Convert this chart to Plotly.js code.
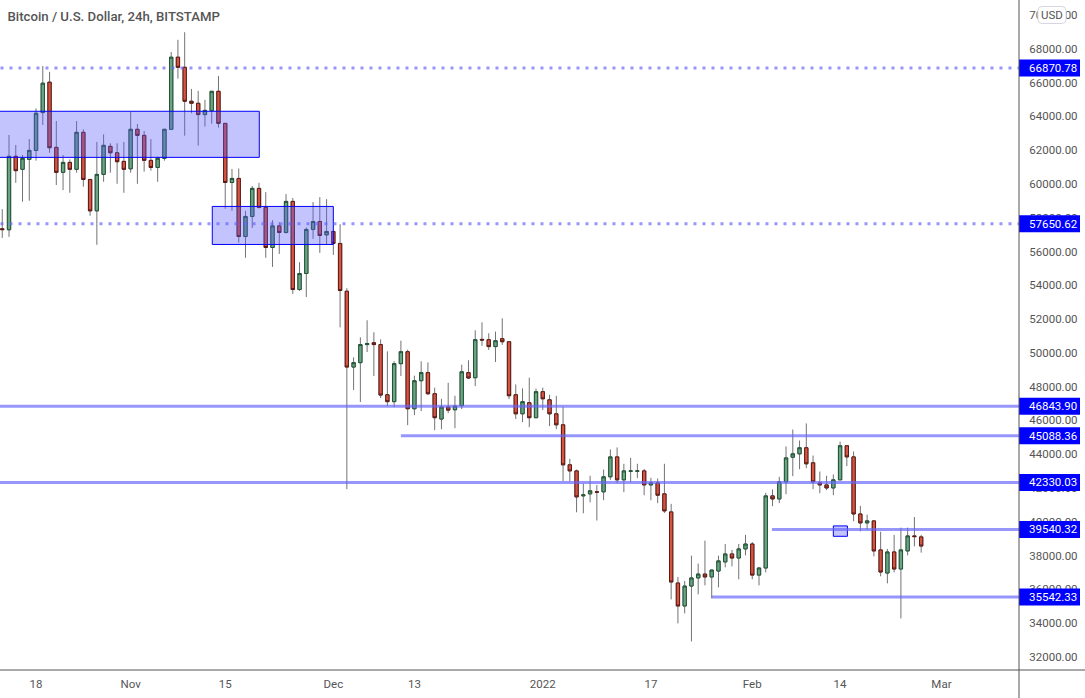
<!DOCTYPE html>
<html><head><meta charset="utf-8">
<script src="https://cdn.plot.ly/plotly-3.0.1.min.js"></script>
<style>html,body{margin:0;padding:0;background:#fff;overflow:hidden}#c{width:1085px;height:698px}</style>
</head><body><div id="c"></div>
<script>
const firstDate = '2021-10-13';
const opens = [57350,57290,61640,60870,61460,61990,64230,66030,62170,60690,
61280,60870,63060,60270,58410,60570,62230,61850,61340,60900,
63240,62880,61400,60980,61520,63240,67510,66910,64900,64780,
64110,64340,65490,63590,60090,60330,56890,58080,59740,58610,
56240,57520,57130,58970,53750,54700,57310,57780,56990,57190,
56480,53650,49160,49420,50490,50600,50490,47520,47110,49360,
50070,46690,48350,48830,47580,46080,46790,46630,46870,48830,
48530,50800,50780,50370,50840,50660,47520,46390,47050,46160,
47700,47220,46390,45740,43370,43010,41530,41650,41770,41770,
42660,43840,42480,42990,42990,43010,42180,42300,41650,40580,
36370,35010,36190,36670,36900,36730,37080,37620,38090,37850,
38390,38680,36840,37260,41530,41350,42360,43820,44020,44380,
43490,42300,42180,42000,42480,44500,43840,40460,39930,40050,
38330,36960,38210,37200,38270,39160,39100];
const highs = [58510,62900,62310,61720,62660,64480,66990,66640,63730,61720,
61460,63730,63240,60270,62490,62940,62410,62410,62490,64290,
63550,63140,62660,61620,63240,67820,68540,68990,65630,65510,
64980,65510,66400,63590,60890,60920,58410,59880,60070,59520,
57860,57740,59400,59170,55370,57430,58930,59220,59100,57190,
57620,53830,49730,50920,51930,51220,50800,50090,49500,50720,
50190,48650,49500,49440,47940,47280,48230,47460,49300,49560,
51340,51810,51160,51260,52050,50660,48130,47900,48530,47880,
47940,47520,47460,46810,43720,43090,42260,42720,42180,43090,
44280,44400,43430,43780,43430,43130,42600,42560,43430,41060,
36730,36490,37990,37520,38880,37140,37990,38680,38330,38680,
39220,38800,37320,41710,41910,42660,44460,45460,44810,45820,
43920,42970,42720,42800,44750,44500,44160,40940,40420,40050,
39410,38390,39220,39650,39650,40280,39220];
const lows = [56810,56870,60070,58950,59010,61380,63490,61850,59940,59640,
59480,60670,59840,58120,56400,60130,60670,60010,59480,60670,
60010,60730,60790,60130,61380,63240,66240,62860,64190,62270,
63400,63570,63340,58530,58410,56520,55630,57400,58550,55630,
55090,55860,57070,53490,53670,53310,56750,55920,56400,55800,
51510,41930,47800,47090,50050,48630,47320,46850,46790,48630,
45720,46310,46550,47500,45420,45480,46430,45540,46670,48450,
48030,50410,50170,49460,50470,47260,46080,45900,45600,46160,
46610,45660,45480,42400,42400,40560,40500,41150,40070,41270,
42480,42280,41750,42340,42580,41570,41270,41100,40520,35400,
33980,34570,32910,35700,36230,35460,36110,37300,37360,36590,
38010,36590,36230,37000,40920,41100,41630,42700,43110,43170,
41930,41690,41870,41570,42480,43290,40030,39430,39530,37950,
36770,36350,37000,34270,38010,38540,38170];
const closes = [57300,61640,60790,61520,61990,64190,65970,62150,60690,61280,
60870,63060,60270,58410,60570,62290,61850,61320,60870,63240,
62880,61400,60980,61520,63240,67510,66910,64900,64780,64110,
64360,65490,63590,60090,60330,56890,58080,59740,58610,56240,
57520,57130,58970,53750,54700,57310,57780,56950,57190,56480,
53690,49160,49420,50490,50550,50490,47500,47110,49360,50070,
46690,48350,48830,47580,46160,46790,46610,46850,48880,48510,
50780,50760,50370,50720,50660,47460,46390,47110,46160,47700,
47280,46390,45740,43370,43010,41470,41590,41830,41750,42660,
43840,42480,43010,43010,43010,42180,42300,41570,40640,36430,
35010,36190,36670,36900,36730,37140,37680,38090,37850,38390,
38680,36840,37260,41530,41350,42360,43780,44020,44380,43430,
42360,42180,42000,42480,44500,43840,40460,39930,40050,38270,
37020,38210,37200,38330,39160,39120,38560];

const levelPrices = [66870.78,57650.62,46843.90,45088.36,42330.03,39540.32,35542.33];
const levelLabels = ['66870.78','57650.62','46843.90','45088.36','42330.03','39540.32','35542.33'];
const levelStarts = ['2021-09-30 18:00','2021-09-30 18:00','2021-10-01','2021-12-11','2021-10-01','2022-02-03 22:00','2022-01-26'];
const levelDash = ['3px,6px','3px,6px','solid','solid','solid','solid','solid'];

const zoneStarts = ['2021-10-08','2021-11-13 02:00','2022-02-13'];
const zoneEnds = ['2021-11-20 01:00','2021-12-01','2022-02-15 02:00'];
const zoneTops = [64307,58672,39752];
const zoneBottoms = [61578,56419,39136];

const tickDates = ['2021-10-18','2021-11-01','2021-11-15','2021-12-01','2021-12-13','2022-01-01','2022-01-17','2022-02-01','2022-02-14','2022-03-01'];
const tickNames = ['18','Nov','15','Dec','13','2022','17','Feb','14','Mar'];

const FONT = 'Roboto, sans-serif';
const INK = '#555555';
const dates = opens.map((_, i) => {
  const d = new Date(firstDate + 'T00:00:00Z');
  d.setUTCDate(d.getUTCDate() + i);
  return d.toISOString().slice(0, 10);
});

const wicks = {
  type: 'candlestick', x: dates, open: opens, high: highs, low: lows, close: closes,
  increasing: {line: {color: '#737375', width: 1}, fillcolor: '#737375'},
  decreasing: {line: {color: '#737375', width: 1}, fillcolor: '#737375'},
  whiskerwidth: 0, hoverinfo: 'skip', showlegend: false
};
const bodies = {
  type: 'candlestick', x: dates, open: opens, close: closes,
  high: opens.map((o, i) => Math.max(o, closes[i])),
  low: opens.map((o, i) => Math.min(o, closes[i])),
  increasing: {line: {color: '#225437', width: 1}, fillcolor: '#6ba583'},
  decreasing: {line: {color: '#5b1a13', width: 1}, fillcolor: '#d75442'},
  whiskerwidth: 0, showlegend: false
};

const PW = 1019, PH = 670;
const px = v => (v / PW).toFixed(5);
const py = v => (1 - v / PH).toFixed(5);
const shapes = [];
zoneStarts.forEach((s, i) => shapes.push({
  type: 'rect', xref: 'x', yref: 'y', x0: s, x1: zoneEnds[i], y0: zoneBottoms[i], y1: zoneTops[i],
  fillcolor: 'rgba(90,90,250,0.36)', line: {color: '#0000ff', width: 1}
}));
levelPrices.forEach((p, i) => shapes.push({
  type: 'line', xref: 'x', yref: 'y', x0: levelStarts[i], x1: '2022-03-12 11:30', y0: p, y1: p,
  line: {color: 'rgba(100,100,250,0.68)', width: 3, dash: levelDash[i]}
}));
levelPrices.forEach(p => shapes.push({
  type: 'rect', xref: 'paper', yref: 'y', ysizemode: 'pixel', yanchor: p,
  x0: 1, x1: 1 + 61 / PW, y0: -8.5, y1: 8.5,
  fillcolor: '#0000ff', line: {width: 0}
}));
shapes.push({type: 'line', xref: 'paper', yref: 'paper', x0: 0, x1: 1085 / PW, y0: 0, y1: 0, line: {color: '#555', width: 1}});
shapes.push({type: 'line', xref: 'paper', yref: 'paper', x0: 1, x1: 1, y0: -28 / PH, y1: 1, line: {color: '#555', width: 1}});
shapes.push({
  type: 'path', xref: 'paper', yref: 'paper', fillcolor: '#ffffff', line: {color: '#d6d6e0', width: 1},
  path: `M${px(1042)},${py(6.5)} L${px(1062)},${py(6.5)} Q${px(1066)},${py(6.5)} ${px(1066)},${py(10.5)}` +
        ` L${px(1066)},${py(19.5)} Q${px(1066)},${py(23.5)} ${px(1062)},${py(23.5)}` +
        ` L${px(1042)},${py(23.5)} Q${px(1038)},${py(23.5)} ${px(1038)},${py(19.5)}` +
        ` L${px(1038)},${py(10.5)} Q${px(1038)},${py(6.5)} ${px(1042)},${py(6.5)} Z`
});

const annotations = levelPrices.map((p, i) => ({
  xref: 'paper', yref: 'y', x: 1, y: p, xanchor: 'left', yanchor: 'middle', xshift: 8,
  text: levelLabels[i], showarrow: false, font: {family: FONT, size: 11.5, color: '#ffffff'}
}));
annotations.push({
  xref: 'paper', yref: 'paper', x: 1052 / PW, y: 1 - 14.5 / PH, xanchor: 'center', yanchor: 'middle',
  text: 'USD', showarrow: false, font: {family: FONT, size: 11.5, color: INK}
});

const layout = {
  width: 1085, height: 698,
  margin: {l: 0, r: 66, t: 0, b: 28},
  paper_bgcolor: '#ffffff', plot_bgcolor: '#ffffff',
  font: {family: FONT, size: 11.5, color: INK},
  title: {text: 'Bitcoin / U.S. Dollar, 24h, BITSTAMP', x: 8 / 1085, xanchor: 'left', xref: 'paper',
          y: 1 - 16 / 698, yanchor: 'middle', font: {family: FONT, size: 13.2, color: INK, weight: 500}},
  showlegend: false, boxgap: 0.3, dragmode: false,
  xaxis: {type: 'date', range: ['2021-10-12 16:00', '2022-03-12 11:30'], rangeslider: {visible: false},
          tickmode: 'array', tickvals: tickDates, ticktext: tickNames, showgrid: false, zeroline: false,
          ticks: 'outside', ticklen: 3, tickcolor: 'rgba(0,0,0,0)', showline: false, fixedrange: true},
  yaxis: {side: 'right', range: [31219, 70897], dtick: 2000, tick0: 32000, tickformat: '.2f',
          showgrid: false, zeroline: false, ticks: 'outside', ticklen: 7, tickcolor: 'rgba(0,0,0,0)',
          showline: false, fixedrange: true},
  shapes, annotations
};
Plotly.newPlot('c', [wicks, bodies], layout, {displayModeBar: false, staticPlot: true});
</script></body></html>
